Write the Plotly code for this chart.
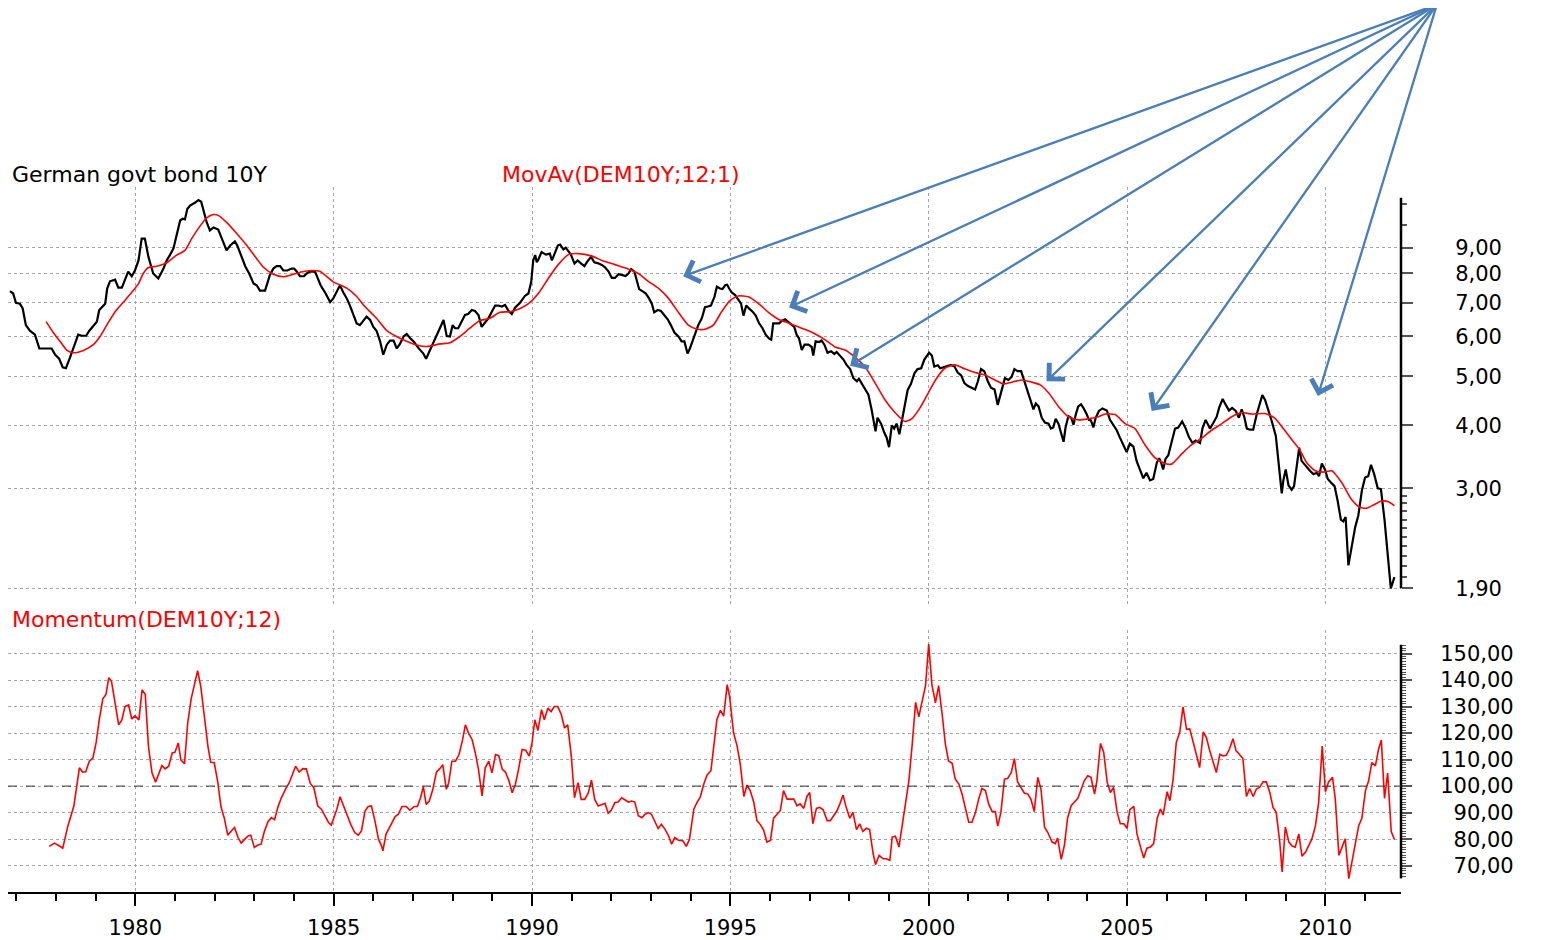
import math
import plotly.graph_objects as go

# ---------------- data ----------------
bond_t = [
    1976.84, 1976.92, 1976.99, 1977.09, 1977.16, 1977.24, 1977.34, 1977.47, 1977.58, 1977.89,
    1977.98, 1978.08, 1978.17, 1978.25, 1978.35, 1978.45, 1978.56, 1978.65, 1978.76, 1978.84,
    1978.94, 1979.03, 1979.09, 1979.24, 1979.29, 1979.36, 1979.49, 1979.57, 1979.66, 1979.77,
    1979.82, 1979.91, 1979.99, 1980.08, 1980.16, 1980.24, 1980.33, 1980.45, 1980.58, 1980.71,
    1980.79, 1980.87, 1980.96, 1981.04, 1981.13, 1981.19, 1981.25, 1981.31, 1981.38, 1981.51,
    1981.59, 1981.66, 1981.72, 1981.80, 1981.88, 1981.97, 1982.09, 1982.18, 1982.30, 1982.39,
    1982.51, 1982.57, 1982.68, 1982.77, 1982.87, 1982.98, 1983.06, 1983.14, 1983.27, 1983.39,
    1983.48, 1983.56, 1983.65, 1983.73, 1983.83, 1983.94, 1984.00, 1984.07, 1984.15, 1984.25,
    1984.32, 1984.40, 1984.53, 1984.61, 1984.67, 1984.78, 1984.91, 1984.99, 1985.08, 1985.16,
    1985.24, 1985.33, 1985.41, 1985.51, 1985.58, 1985.66, 1985.75, 1985.83, 1985.92, 1986.00,
    1986.08, 1986.17, 1986.25, 1986.34, 1986.42, 1986.51, 1986.59, 1986.67, 1986.76, 1986.84,
    1986.93, 1987.01, 1987.14, 1987.26, 1987.33, 1987.43, 1987.52, 1987.60, 1987.68, 1987.77,
    1987.85, 1987.93, 1988.00, 1988.06, 1988.14, 1988.23, 1988.31, 1988.39, 1988.48, 1988.56,
    1988.65, 1988.73, 1988.82, 1988.90, 1988.98, 1989.07, 1989.15, 1989.24, 1989.32, 1989.41,
    1989.49, 1989.57, 1989.70, 1989.82, 1989.91, 1989.98, 1990.03, 1990.08, 1990.12, 1990.16,
    1990.24, 1990.35, 1990.45, 1990.50, 1990.56, 1990.65, 1990.71, 1990.79, 1990.85, 1990.92,
    1990.98, 1991.07, 1991.15, 1991.24, 1991.32, 1991.40, 1991.49, 1991.57, 1991.67, 1991.77,
    1991.84, 1991.93, 1992.01, 1992.09, 1992.18, 1992.28, 1992.36, 1992.43, 1992.50, 1992.58,
    1992.64, 1992.70, 1992.78, 1992.87, 1992.95, 1993.02, 1993.08, 1993.17, 1993.25, 1993.34,
    1993.42, 1993.50, 1993.59, 1993.69, 1993.77, 1993.84, 1993.92, 1993.98, 1994.04, 1994.11,
    1994.19, 1994.28, 1994.36, 1994.43, 1994.51, 1994.60, 1994.66, 1994.74, 1994.80, 1994.87,
    1994.92, 1994.97, 1995.03, 1995.12, 1995.22, 1995.27, 1995.33, 1995.40, 1995.47, 1995.56,
    1995.64, 1995.72, 1995.81, 1995.89, 1995.98, 1996.03, 1996.08, 1996.14, 1996.23, 1996.29,
    1996.38, 1996.45, 1996.53, 1996.61, 1996.67, 1996.73, 1996.80, 1996.87, 1996.97, 1997.05,
    1997.09, 1997.15, 1997.24, 1997.30, 1997.37, 1997.45, 1997.54, 1997.62, 1997.68, 1997.77,
    1997.85, 1997.93, 1998.02, 1998.10, 1998.19, 1998.24, 1998.31, 1998.39, 1998.48, 1998.56,
    1998.60, 1998.66, 1998.71, 1998.80, 1998.88, 1998.94, 1999.00, 1999.07, 1999.13, 1999.19,
    1999.26, 1999.32, 1999.40, 1999.47, 1999.55, 1999.64, 1999.72, 1999.81, 1999.89, 2000.01,
    2000.08, 2000.14, 2000.23, 2000.29, 2000.37, 2000.45, 2000.56, 2000.65, 2000.73, 2000.82,
    2000.90, 2000.98, 2001.08, 2001.17, 2001.24, 2001.32, 2001.40, 2001.49, 2001.57, 2001.66,
    2001.74, 2001.80, 2001.86, 2001.92, 2002.01, 2002.09, 2002.16, 2002.24, 2002.33, 2002.39,
    2002.47, 2002.55, 2002.64, 2002.70, 2002.77, 2002.85, 2002.93, 2003.02, 2003.08, 2003.14,
    2003.20, 2003.27, 2003.34, 2003.40, 2003.45, 2003.52, 2003.59, 2003.65, 2003.71, 2003.77,
    2003.84, 2003.90, 2003.98, 2004.04, 2004.09, 2004.15, 2004.21, 2004.29, 2004.38, 2004.45,
    2004.49, 2004.57, 2004.65, 2004.74, 2004.82, 2004.91, 2004.99, 2005.07, 2005.16, 2005.24,
    2005.33, 2005.41, 2005.49, 2005.58, 2005.66, 2005.75, 2005.81, 2005.86, 2005.91, 2005.97,
    2006.04, 2006.12, 2006.21, 2006.29, 2006.39, 2006.48, 2006.56, 2006.65, 2006.73, 2006.84,
    2006.90, 2006.98, 2007.03, 2007.09, 2007.18, 2007.26, 2007.32, 2007.41, 2007.49, 2007.57,
    2007.65, 2007.74, 2007.82, 2007.89, 2007.96, 2008.02, 2008.10, 2008.18, 2008.27, 2008.35,
    2008.41, 2008.48, 2008.56, 2008.65, 2008.75, 2008.81, 2008.86, 2008.90, 2008.94, 2009.00,
    2009.07, 2009.15, 2009.21, 2009.28, 2009.34, 2009.40, 2009.50, 2009.61, 2009.70, 2009.78,
    2009.84, 2009.91, 2009.99, 2010.06, 2010.14, 2010.23, 2010.31, 2010.39, 2010.45, 2010.51,
    2010.58, 2010.66, 2010.75, 2010.83, 2010.92, 2011.00, 2011.08, 2011.15, 2011.23, 2011.32,
    2011.40, 2011.49, 2011.57, 2011.65, 2011.74,
]
bond_v = [
    7.38, 7.30, 7.00, 6.97, 6.82, 6.32, 6.16, 6.05, 5.68, 5.68,
    5.52, 5.42, 5.21, 5.19, 5.44, 5.72, 6.05, 6.02, 6.02, 6.16,
    6.30, 6.42, 6.77, 6.97, 7.47, 7.72, 7.78, 7.50, 7.50, 7.90,
    8.07, 7.90, 8.11, 8.49, 9.38, 9.38, 8.63, 8.00, 7.82, 8.18,
    8.49, 8.70, 8.96, 9.52, 10.19, 10.27, 10.24, 10.74, 10.91, 11.06,
    11.19, 11.10, 10.66, 10.10, 9.74, 9.87, 9.78, 9.38, 8.89, 9.09,
    9.26, 9.09, 8.63, 8.27, 8.00, 7.64, 7.58, 7.40, 7.40, 7.94,
    8.18, 8.27, 8.27, 8.11, 8.11, 8.18, 8.18, 8.07, 7.90, 7.90,
    8.00, 8.07, 8.07, 7.82, 7.58, 7.34, 7.02, 7.14, 7.40, 7.58,
    7.34, 7.14, 6.91, 6.62, 6.37, 6.32, 6.47, 6.57, 6.47, 6.27,
    6.16, 5.87, 5.52, 5.78, 5.89, 5.89, 5.68, 5.80, 6.00, 6.07,
    5.95, 5.87, 5.69, 5.55, 5.42, 5.64, 5.87, 6.05, 6.23, 6.47,
    6.01, 6.00, 6.32, 6.23, 6.23, 6.42, 6.62, 6.65, 6.77, 6.74,
    6.62, 6.27, 6.42, 6.52, 6.70, 6.91, 6.91, 6.88, 6.93, 6.74,
    6.65, 6.84, 7.00, 7.22, 7.30, 7.70, 8.49, 8.70, 8.42, 8.53,
    8.82, 8.72, 8.76, 8.49, 8.72, 9.09, 9.13, 8.93, 9.00, 8.82,
    8.72, 8.37, 8.49, 8.37, 8.27, 8.46, 8.63, 8.42, 8.38, 8.31,
    8.23, 8.07, 7.84, 7.84, 7.97, 7.94, 7.91, 8.00, 8.16, 8.07,
    7.70, 7.45, 7.38, 7.30, 7.14, 6.97, 6.70, 6.77, 6.74, 6.60,
    6.49, 6.32, 6.11, 6.00, 5.87, 5.87, 5.55, 5.68, 5.87, 6.11,
    6.32, 6.52, 6.86, 6.88, 6.91, 7.20, 7.53, 7.47, 7.45, 7.58,
    7.60, 7.47, 7.34, 7.25, 7.07, 6.97, 6.60, 6.91, 6.82, 6.72,
    6.60, 6.38, 6.23, 6.05, 5.94, 5.91, 6.37, 6.37, 6.37, 6.44,
    6.49, 6.42, 6.34, 6.27, 6.05, 5.95, 5.64, 5.78, 5.78, 5.72,
    5.50, 5.87, 5.85, 5.89, 5.78, 5.57, 5.61, 5.54, 5.59, 5.50,
    5.40, 5.27, 5.17, 4.96, 4.89, 4.95, 4.85, 4.75, 4.60, 4.30,
    4.12, 3.89, 4.14, 4.03, 3.87, 3.78, 3.62, 4.00, 3.94, 4.03,
    3.84, 4.07, 4.36, 4.70, 4.83, 5.07, 5.17, 5.19, 5.40, 5.57,
    5.50, 5.23, 5.26, 5.19, 5.21, 5.23, 5.27, 5.23, 5.09, 5.02,
    4.85, 4.79, 4.75, 4.71, 4.89, 5.17, 5.12, 4.89, 4.75, 4.71,
    4.39, 4.58, 4.75, 4.96, 4.92, 4.99, 5.17, 5.12, 5.12, 4.96,
    4.75, 4.53, 4.30, 4.42, 4.36, 4.14, 4.05, 4.03, 3.94, 3.96,
    4.12, 4.03, 3.87, 3.71, 3.96, 4.17, 4.14, 4.01, 4.21, 4.36,
    4.40, 4.33, 4.21, 4.10, 4.09, 3.96, 4.14, 4.27, 4.32, 4.30,
    4.28, 4.10, 4.01, 3.91, 3.78, 3.66, 3.54, 3.68, 3.63, 3.40,
    3.25, 3.14, 3.22, 3.11, 3.13, 3.37, 3.44, 3.37, 3.27, 3.43,
    3.49, 3.69, 3.94, 3.96, 4.07, 3.94, 3.79, 3.69, 3.73, 3.69,
    3.94, 4.10, 4.03, 3.94, 4.05, 4.16, 4.33, 4.51, 4.39, 4.28,
    4.33, 4.27, 4.14, 4.30, 4.14, 3.94, 3.92, 3.92, 4.21, 4.42,
    4.59, 4.49, 4.30, 4.07, 3.81, 3.40, 3.15, 2.93, 3.11, 3.27,
    3.04, 2.98, 3.03, 3.30, 3.61, 3.40, 3.32, 3.25, 3.20, 3.22,
    3.17, 3.36, 3.27, 3.13, 3.08, 3.03, 2.83, 2.60, 2.58, 2.63,
    2.11, 2.29, 2.51, 2.65, 2.97, 3.15, 3.17, 3.34, 3.20, 3.00,
    2.99, 2.60, 2.22, 1.90, 2.00,
]

ma_t = [
    1977.75, 1977.93, 1978.10, 1978.27, 1978.44, 1978.69, 1978.94, 1979.11, 1979.28, 1979.49,
    1979.70, 1979.91, 1980.08, 1980.20, 1980.33, 1980.54, 1980.79, 1981.04, 1981.25, 1981.42,
    1981.63, 1981.80, 1981.97, 1982.09, 1982.30, 1982.56, 1982.81, 1983.06, 1983.23, 1983.48,
    1983.73, 1983.98, 1984.24, 1984.49, 1984.66, 1984.99, 1985.33, 1985.58, 1985.75, 1986.08,
    1986.34, 1986.67, 1987.01, 1987.34, 1987.68, 1987.93, 1988.18, 1988.43, 1988.68, 1988.94,
    1989.19, 1989.44, 1989.70, 1989.91, 1990.16, 1990.41, 1990.66, 1990.92, 1991.17, 1991.51,
    1991.76, 1992.09, 1992.43, 1992.68, 1992.93, 1993.19, 1993.44, 1993.69, 1993.94, 1994.15,
    1994.36, 1994.57, 1994.78, 1994.99, 1995.20, 1995.45, 1995.71, 1995.96, 1996.21, 1996.46,
    1996.71, 1996.97, 1997.14, 1997.39, 1997.64, 1997.89, 1998.14, 1998.39, 1998.65, 1998.90,
    1999.15, 1999.40, 1999.57, 1999.78, 1999.99, 2000.20, 2000.41, 2000.66, 2000.92, 2001.17,
    2001.42, 2001.67, 2001.88, 2002.09, 2002.35, 2002.60, 2002.81, 2003.02, 2003.27, 2003.52,
    2003.77, 2004.02, 2004.28, 2004.45, 2004.70, 2004.95, 2005.20, 2005.45, 2005.70, 2005.96,
    2006.12, 2006.38, 2006.63, 2006.88, 2007.13, 2007.39, 2007.64, 2007.89, 2008.14, 2008.48,
    2008.73, 2008.94, 2009.15, 2009.34, 2009.53, 2009.74, 2009.95, 2010.16, 2010.41, 2010.66,
    2010.87, 2011.04, 2011.21, 2011.42, 2011.59, 2011.74,
]
ma_v = [
    6.42, 6.11, 5.87, 5.64, 5.57, 5.63, 5.78, 6.00, 6.32, 6.72,
    7.02, 7.34, 7.64, 8.00, 8.22, 8.27, 8.40, 8.70, 8.89, 9.38,
    9.93, 10.31, 10.47, 10.43, 10.10, 9.59, 9.09, 8.56, 8.23, 7.97,
    7.88, 7.97, 8.07, 8.11, 8.07, 7.70, 7.48, 7.20, 6.93, 6.52,
    6.16, 5.95, 5.80, 5.73, 5.80, 5.83, 6.00, 6.23, 6.45, 6.52,
    6.70, 6.72, 6.82, 6.97, 7.30, 7.82, 8.33, 8.72, 8.76, 8.66,
    8.49, 8.33, 8.16, 8.00, 7.72, 7.47, 7.14, 6.70, 6.32, 6.21,
    6.20, 6.32, 6.72, 7.07, 7.22, 7.19, 6.97, 6.70, 6.49, 6.38,
    6.27, 6.16, 6.07, 5.91, 5.72, 5.64, 5.46, 5.23, 4.85, 4.49,
    4.24, 4.07, 4.12, 4.33, 4.64, 4.96, 5.19, 5.27, 5.17, 5.09,
    5.03, 4.92, 4.83, 4.87, 4.92, 4.87, 4.81, 4.64, 4.36, 4.16,
    4.10, 4.12, 4.16, 4.21, 4.20, 4.03, 3.94, 3.66, 3.45, 3.36,
    3.35, 3.51, 3.66, 3.77, 3.91, 4.03, 4.16, 4.24, 4.21, 4.22,
    4.13, 3.94, 3.75, 3.59, 3.37, 3.25, 3.23, 3.25, 3.08, 2.85,
    2.75, 2.74, 2.78, 2.83, 2.82, 2.77,
]

mom_t = [
    1977.83, 1977.96, 1978.08, 1978.17, 1978.30, 1978.45, 1978.59, 1978.67, 1978.75, 1978.84,
    1978.93, 1979.01, 1979.09, 1979.18, 1979.26, 1979.33, 1979.40, 1979.49, 1979.58, 1979.66,
    1979.74, 1979.83, 1979.91, 1979.99, 1980.09, 1980.17, 1980.25, 1980.33, 1980.42, 1980.51,
    1980.58, 1980.67, 1980.75, 1980.84, 1980.93, 1981.00, 1981.08, 1981.15, 1981.24, 1981.32,
    1981.41, 1981.50, 1981.57, 1981.65, 1981.74, 1981.83, 1981.90, 1981.99, 1982.08, 1982.16,
    1982.24, 1982.33, 1982.42, 1982.50, 1982.59, 1982.67, 1982.76, 1982.85, 1982.91, 1983.00,
    1983.09, 1983.17, 1983.25, 1983.34, 1983.43, 1983.51, 1983.59, 1983.68, 1983.79, 1983.88,
    1983.96, 1984.04, 1984.13, 1984.22, 1984.31, 1984.41, 1984.50, 1984.60, 1984.69, 1984.78,
    1984.87, 1984.94, 1985.03, 1985.08, 1985.16, 1985.25, 1985.34, 1985.43, 1985.53, 1985.62,
    1985.70, 1985.79, 1985.87, 1985.95, 1986.04, 1986.13, 1986.21, 1986.24, 1986.32, 1986.43,
    1986.55, 1986.63, 1986.72, 1986.83, 1986.92, 1987.03, 1987.11, 1987.19, 1987.26, 1987.33,
    1987.41, 1987.50, 1987.59, 1987.67, 1987.75, 1987.84, 1987.90, 1987.98, 1988.07, 1988.16,
    1988.25, 1988.32, 1988.40, 1988.49, 1988.57, 1988.65, 1988.74, 1988.82, 1988.91, 1988.99,
    1989.08, 1989.16, 1989.25, 1989.33, 1989.42, 1989.50, 1989.58, 1989.66, 1989.75, 1989.84,
    1989.93, 1990.00, 1990.07, 1990.15, 1990.24, 1990.31, 1990.40, 1990.48, 1990.56, 1990.65,
    1990.74, 1990.82, 1990.90, 1990.99, 1991.07, 1991.16, 1991.24, 1991.33, 1991.42, 1991.50,
    1991.58, 1991.67, 1991.76, 1991.84, 1991.92, 1992.00, 1992.09, 1992.17, 1992.26, 1992.34,
    1992.43, 1992.51, 1992.59, 1992.68, 1992.77, 1992.85, 1992.93, 1993.01, 1993.10, 1993.18,
    1993.26, 1993.35, 1993.44, 1993.52, 1993.60, 1993.69, 1993.80, 1993.89, 1993.97, 1994.08,
    1994.16, 1994.24, 1994.33, 1994.41, 1994.51, 1994.58, 1994.66, 1994.75, 1994.83, 1994.92,
    1994.98, 1995.08, 1995.17, 1995.25, 1995.34, 1995.42, 1995.50, 1995.59, 1995.67, 1995.76,
    1995.84, 1995.92, 1996.01, 1996.09, 1996.18, 1996.26, 1996.34, 1996.43, 1996.51, 1996.60,
    1996.68, 1996.76, 1996.85, 1996.93, 1997.00, 1997.08, 1997.17, 1997.25, 1997.34, 1997.44,
    1997.52, 1997.61, 1997.69, 1997.76, 1997.84, 1997.92, 1998.01, 1998.09, 1998.18, 1998.26,
    1998.34, 1998.43, 1998.51, 1998.60, 1998.66, 1998.75, 1998.85, 1998.93, 1999.02, 1999.08,
    1999.16, 1999.25, 1999.34, 1999.41, 1999.50, 1999.58, 1999.67, 1999.75, 1999.83, 1999.92,
    2000.00, 2000.08, 2000.17, 2000.25, 2000.34, 2000.42, 2000.50, 2000.59, 2000.67, 2000.76,
    2000.84, 2000.92, 2001.01, 2001.09, 2001.18, 2001.26, 2001.34, 2001.43, 2001.51, 2001.60,
    2001.68, 2001.74, 2001.82, 2001.91, 2001.99, 2002.08, 2002.16, 2002.24, 2002.33, 2002.41,
    2002.50, 2002.58, 2002.66, 2002.75, 2002.83, 2002.92, 2003.00, 2003.11, 2003.19, 2003.25,
    2003.34, 2003.42, 2003.50, 2003.59, 2003.67, 2003.76, 2003.84, 2003.92, 2004.01, 2004.09,
    2004.18, 2004.24, 2004.33, 2004.41, 2004.50, 2004.58, 2004.66, 2004.75, 2004.83, 2004.92,
    2005.00, 2005.07, 2005.17, 2005.25, 2005.34, 2005.42, 2005.50, 2005.59, 2005.67, 2005.76,
    2005.84, 2005.91, 2006.01, 2006.08, 2006.16, 2006.24, 2006.33, 2006.41, 2006.50, 2006.58,
    2006.66, 2006.75, 2006.83, 2006.92, 2007.00, 2007.08, 2007.17, 2007.25, 2007.34, 2007.42,
    2007.50, 2007.58, 2007.67, 2007.75, 2007.83, 2007.92, 2008.01, 2008.09, 2008.18, 2008.26,
    2008.34, 2008.43, 2008.51, 2008.60, 2008.68, 2008.76, 2008.85, 2008.91, 2008.99, 2009.08,
    2009.16, 2009.24, 2009.33, 2009.41, 2009.50, 2009.58, 2009.66, 2009.75, 2009.83, 2009.92,
    2010.00, 2010.08, 2010.18, 2010.25, 2010.34, 2010.42, 2010.50, 2010.59, 2010.67, 2010.76,
    2010.84, 2010.92, 2011.01, 2011.09, 2011.17, 2011.26, 2011.34, 2011.41, 2011.49, 2011.57,
    2011.66, 2011.74,
]
mom_v = [
    77.3, 78.5, 77.5, 76.6, 85.0, 92.5, 106.9, 105.3, 105.4, 109.4,
    110.6, 116.3, 125.0, 132.9, 134.6, 140.9, 139.4, 131.9, 123.1, 125.0,
    130.0, 130.6, 125.3, 126.5, 125.0, 136.3, 134.6, 115.0, 105.0, 101.5,
    104.4, 107.8, 106.5, 107.5, 112.5, 112.8, 116.3, 109.8, 108.5, 123.8,
    133.1, 138.8, 143.5, 137.5, 125.0, 115.0, 109.0, 108.8, 101.3, 92.1,
    88.1, 81.5, 83.1, 84.4, 80.6, 78.5, 80.0, 81.3, 81.5, 76.9,
    77.8, 78.1, 82.8, 86.5, 88.1, 87.3, 91.9, 95.6, 99.0, 101.3,
    104.4, 107.5, 105.3, 106.6, 106.5, 101.0, 99.4, 92.5, 91.3, 89.0,
    86.3, 85.3, 88.8, 91.3, 96.0, 92.5, 88.8, 85.6, 82.5, 81.5,
    83.1, 90.6, 92.3, 92.5, 86.9, 80.0, 77.3, 75.6, 81.9, 85.3,
    88.5, 89.4, 92.3, 92.3, 90.9, 92.3, 92.3, 95.6, 99.8, 93.1,
    94.4, 98.8, 105.3, 106.5, 108.1, 98.8, 101.3, 109.4, 109.4, 111.9,
    117.5, 123.1, 120.0, 117.5, 112.5, 106.3, 96.3, 106.9, 109.4, 105.0,
    111.9, 111.5, 106.3, 105.3, 101.9, 97.5, 100.6, 106.3, 113.8, 113.5,
    111.3, 116.3, 125.0, 121.0, 128.8, 125.0, 129.4, 128.1, 130.0, 130.0,
    126.9, 121.9, 123.1, 111.3, 95.6, 101.3, 95.0, 95.0, 97.5, 102.3,
    95.0, 92.5, 93.1, 93.5, 89.8, 91.0, 93.8, 94.0, 95.6, 94.8,
    94.0, 94.4, 94.0, 88.8, 88.1, 89.4, 90.0, 89.4, 86.3, 84.0,
    85.6, 83.8, 81.3, 78.1, 80.6, 79.6, 79.4, 77.3, 80.0, 91.4,
    93.9, 95.8, 100.8, 104.1, 105.8, 115.1, 125.1, 128.6, 126.4, 138.3,
    133.9, 120.1, 115.1, 108.3, 96.1, 100.4, 98.3, 93.9, 87.0, 85.4,
    83.3, 78.9, 79.5, 87.9, 89.5, 90.8, 98.3, 95.1, 95.1, 95.1,
    92.6, 93.3, 91.6, 96.1, 97.6, 85.8, 91.6, 92.0, 91.1, 87.0,
    87.0, 88.9, 90.8, 93.3, 96.6, 92.0, 87.9, 90.1, 83.6, 85.8,
    82.9, 84.1, 83.6, 74.5, 70.4, 73.9, 72.6, 72.6, 72.0, 80.8,
    81.1, 77.0, 85.4, 92.0, 102.0, 115.1, 131.6, 126.1, 132.0, 137.9,
    153.6, 138.3, 131.4, 137.9, 127.0, 115.8, 109.5, 108.6, 102.6, 100.8,
    97.0, 91.4, 86.4, 86.4, 90.1, 95.1, 99.1, 98.3, 93.3, 90.4,
    90.4, 84.9, 90.1, 102.6, 102.9, 105.1, 110.4, 101.6, 99.1, 97.4,
    97.0, 94.9, 90.4, 103.3, 98.9, 84.5, 82.6, 78.9, 78.3, 80.4,
    72.4, 77.6, 87.9, 92.6, 93.9, 95.4, 98.6, 102.0, 103.9, 103.3,
    97.0, 102.0, 116.1, 112.9, 101.4, 97.6, 99.5, 90.1, 85.8, 85.8,
    84.1, 91.1, 92.4, 82.0, 77.0, 72.9, 76.6, 77.0, 78.3, 87.9,
    91.4, 89.1, 97.9, 94.5, 102.4, 116.4, 120.4, 129.9, 121.4, 121.6,
    117.0, 111.4, 107.0, 120.4, 118.3, 113.6, 108.9, 105.1, 112.0, 111.4,
    111.6, 113.9, 117.9, 113.3, 112.0, 110.4, 96.1, 99.1, 96.1, 98.9,
    99.5, 101.6, 101.6, 97.6, 92.0, 90.1, 78.9, 67.6, 84.6, 78.9,
    77.4, 77.0, 82.0, 73.6, 75.1, 77.4, 80.1, 85.1, 93.9, 115.1,
    97.9, 101.6, 103.3, 95.1, 73.9, 77.0, 80.1, 65.1, 71.4, 77.6,
    85.1, 87.9, 98.3, 102.0, 108.9, 107.6, 113.9, 117.4, 95.4, 104.9,
    82.9, 79.9,
]

year_ticks = [1980, 1985, 1990, 1995, 2000, 2005, 2010]
bond_ticks = [1.9, 3, 4, 5, 6, 7, 8, 9]
bond_tick_text = ["1,90", "3,00", "4,00", "5,00", "6,00", "7,00", "8,00", "9,00"]
bond_minor_ticks = [2.0, 2.1, 2.2, 2.3, 2.4, 2.5, 2.6, 2.7, 2.8, 2.9, 10, 11]
mom_ticks = [70, 80, 90, 100, 110, 120, 130, 140, 150]
mom_tick_text = ["\u200770,00", "\u200780,00", "\u200790,00", "100,00", "110,00",
                 "120,00", "130,00", "140,00", "150,00"]
mom_minor_ticks = list(range(66, 154))
mom_base = 100

# arrows: heads (date, yield) and common tail
arrow_t = [1993.81, 1996.48, 1998.02, 2002.97, 2005.62, 2009.81]
arrow_v = [7.90, 6.85, 5.25, 4.89, 4.27, 4.57]
arrow_tail_t = 2012.81
arrow_tail_v = 27.3

label_bond = "German govt bond 10Y"
label_ma = "MovAv(DEM10Y;12;1)"
label_mom = "Momentum(DEM10Y;12)"

# ---------------- layout geometry ----------------
# the page adds an 8px body margin, so the figure is drawn 8px in from the window edge
OFF = 8
W, H = 1554 - OFF, 940 - OFF
FONT = "DejaVu Sans"
RED = "#ff0000"
GRID = "#a6a6a6"


def fx(px):
    return (px - OFF) / W


def fy(py):
    return 1 - (py - OFF) / H


x_dom = [fx(8), fx(1401)]
x_rng = [1976.79, 2011.906]
top_dom = [fy(607), fy(188)]
top_rng = [0.2481, 1.0745]          # log10 range
bot_dom = [fy(897), fy(633)]
bot_rng = [59.99, 159.0]


def top_paper(v):
    f = (math.log10(v) - top_rng[0]) / (top_rng[1] - top_rng[0])
    return top_dom[0] + f * (top_dom[1] - top_dom[0])


def bot_paper(v):
    f = (v - bot_rng[0]) / (bot_rng[1] - bot_rng[0])
    return bot_dom[0] + f * (bot_dom[1] - bot_dom[0])


fig = go.Figure()
fig.add_trace(go.Scatter(x=bond_t, y=bond_v, mode="lines", xaxis="x", yaxis="y",
                         line=dict(color="black", width=2.2), name=label_bond))
fig.add_trace(go.Scatter(x=ma_t, y=ma_v, mode="lines", xaxis="x", yaxis="y",
                         line=dict(color=RED, width=1.6, shape="spline", smoothing=0.6),
                         name=label_ma))
fig.add_trace(go.Scatter(x=mom_t, y=mom_v, mode="lines", xaxis="x2", yaxis="y2",
                         line=dict(color=RED, width=1.6), name=label_mom))

tickfont = dict(family=FONT, size=21, color="black")

fig.update_layout(
    width=W, height=H, autosize=False,
    margin=dict(l=0, r=0, t=0, b=0),
    paper_bgcolor="white", plot_bgcolor="white",
    showlegend=False,
    font=dict(family=FONT),
    xaxis=dict(domain=x_dom, range=x_rng, anchor="y",
               tickmode="linear", tick0=1980, dtick=5,
               showticklabels=False, ticks="",
               showgrid=True, gridcolor=GRID, griddash="dot", gridwidth=1,
               showline=False, zeroline=False),
    xaxis2=dict(domain=x_dom, range=x_rng, anchor="y2",
                tickmode="array", tickvals=year_ticks,
                ticktext=[str(v) for v in year_ticks],
                ticks="outside", ticklen=12, tickwidth=1.5, tickcolor="black",
                tickfont=tickfont, ticklabelstandoff=4,
                showgrid=True, gridcolor=GRID, griddash="dot", gridwidth=1,
                showline=True, linecolor="black", linewidth=1.5, zeroline=False,
                minor=dict(tickmode="linear", tick0=1977, dtick=1, ticks="outside",
                           ticklen=7, tickwidth=1.5, tickcolor="black", showgrid=False)),
    yaxis=dict(domain=top_dom, type="log", range=top_rng, anchor="x", side="right",
               tickmode="array", tickvals=bond_ticks, ticktext=bond_tick_text,
               ticks="outside", ticklen=11, tickwidth=1.5, tickcolor="#555555",
               tickfont=tickfont, ticklabelstandoff=38,
               showgrid=True, gridcolor=GRID, griddash="dot", gridwidth=1,
               showline=False, zeroline=False,
               minor=dict(tickmode="array", tickvals=bond_minor_ticks, ticks="outside",
                          ticklen=5, tickwidth=1.5, tickcolor="#555555", showgrid=False)),
    yaxis2=dict(domain=bot_dom, range=bot_rng, anchor="x2", side="right",
                tickmode="array", tickvals=mom_ticks, ticktext=mom_tick_text,
                ticks="outside", ticklen=10, tickwidth=1.5, tickcolor="#555555",
                tickfont=tickfont, ticklabelstandoff=24,
                showgrid=True, gridcolor=GRID, griddash="dot", gridwidth=1,
                showline=False, zeroline=False,
                minor=dict(tickmode="array", tickvals=mom_minor_ticks, ticks="outside",
                           ticklen=4, tickwidth=1, tickcolor="#555555", showgrid=False)),
)

# axis spines on the right (span only the labelled range) and the 100 reference line
fig.add_shape(type="line", xref="paper", yref="paper",
              x0=x_dom[1], x1=x_dom[1], y0=top_paper(1.9), y1=top_paper(11.3),
              line=dict(color="black", width=2.5))
fig.add_shape(type="line", xref="paper", yref="paper",
              x0=x_dom[1], x1=x_dom[1], y0=bot_paper(65.2), y1=bot_paper(153.3),
              line=dict(color="black", width=2.5))
fig.add_shape(type="line", xref="x2 domain", yref="y2", x0=0, x1=1,
              y0=mom_base, y1=mom_base, line=dict(color="#333333", width=1, dash="dash"))

# series labels
fig.add_annotation(text=label_bond, xref="paper", yref="paper", x=fx(10), y=fy(175),
                   xanchor="left", yanchor="middle", showarrow=False,
                   font=dict(family=FONT, size=22, color="black"))
fig.add_annotation(text=label_ma, xref="paper", yref="paper", x=fx(500), y=fy(175),
                   xanchor="left", yanchor="middle", showarrow=False,
                   font=dict(family=FONT, size=22, color=RED))
fig.add_annotation(text=label_mom, xref="paper", yref="paper", x=fx(10), y=fy(623),
                   xanchor="left", yanchor="middle", showarrow=False,
                   font=dict(family=FONT, size=22, color=RED))

# blue arrows from a common origin
for t, v in zip(arrow_t, arrow_v):
    fig.add_annotation(x=t, y=math.log10(v), xref="x", yref="y",
                       ax=arrow_tail_t, ay=math.log10(arrow_tail_v), axref="x", ayref="y",
                       text="", showarrow=True, arrowhead=4, arrowsize=1.9,
                       arrowwidth=2.3, arrowcolor="#4a7ebb", standoff=0)

fig.write_html("out.html")
